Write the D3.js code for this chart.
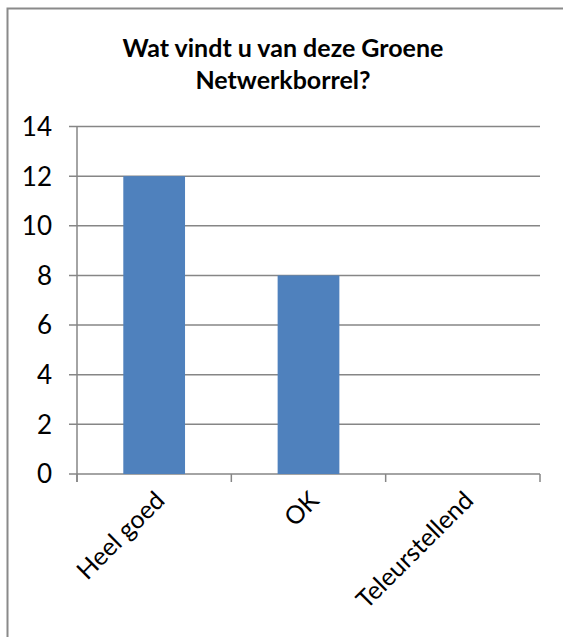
<!DOCTYPE html>
<html>
<head>
<meta charset="utf-8">
<script src="https://cdn.jsdelivr.net/npm/d3@7"></script>
<style>
  body { margin: 0; background: #fff; }
  text { font-family: Lato, "Liberation Sans", sans-serif; fill: #000; }
</style>
</head>
<body>
<div id="chart"></div>
<script>
// data
const categories = ["Heel goed", "OK", "Teleurstellend"];
const values = [12, 8, 0];
const yTicks = [0, 2, 4, 6, 8, 10, 12, 14];
const titleLines = ["Wat vindt u van deze Groene", "Netwerkborrel?"];

const W = 563, H = 637;
const margin = { top: 126.5, right: 23, bottom: 163, left: 77 };
const width = W - margin.left - margin.right,
    height = H - margin.top - margin.bottom;

const svg = d3.select("#chart").append("svg")
    .attr("width", W)
    .attr("height", H);

// outer frame (right and bottom fall outside the picture)
svg.append("rect")
    .attr("x", 7.5).attr("y", 8.5)
    .attr("width", 700).attr("height", 700)
    .attr("fill", "none")
    .attr("stroke", "#8a8a8a")
    .attr("stroke-width", 2);

// title
svg.append("g").selectAll("text")
    .data(titleLines)
    .join("text")
    .attr("x", 283)
    .attr("y", (d, i) => 57 + i * 32)
    .attr("text-anchor", "middle")
    .style("font-weight", "bold")
    .style("font-size", "25px")
    .text(d => d);

const g = svg.append("g")
    .attr("transform", `translate(${margin.left},${margin.top})`);

const x = d3.scaleBand()
    .domain(categories)
    .range([0, width])
    .paddingInner(0.6)
    .paddingOuter(0.3);

const y = d3.scaleLinear()
    .domain([0, 14])
    .range([height, 0]);

// gridlines + y ticks
g.append("g")
    .selectAll("line")
    .data(yTicks)
    .join("line")
    .attr("x1", -8).attr("x2", width)
    .attr("y1", d => y(d)).attr("y2", d => y(d))
    .attr("stroke", "#868686")
    .attr("stroke-width", 1.5);

g.append("g")
    .selectAll("text")
    .data(yTicks)
    .join("text")
    .attr("x", -25)
    .attr("y", d => y(d))
    .attr("dy", "0.36em")
    .attr("text-anchor", "end")
    .style("font-size", "26px")
    .text(d => d);

// bars
g.append("g")
    .selectAll("rect")
    .data(values)
    .join("rect")
    .attr("x", (d, i) => x(categories[i]))
    .attr("y", d => y(d))
    .attr("width", x.bandwidth())
    .attr("height", d => height - y(d))
    .attr("fill", "#4f81bd");

// y axis line
g.append("line")
    .attr("x1", 0).attr("x2", 0)
    .attr("y1", 0).attr("y2", height + 8)
    .attr("stroke", "#868686")
    .attr("stroke-width", 1.5);

// category boundary ticks
const bounds = d3.range(categories.length + 1).map(i => i * x.step());
g.append("g")
    .selectAll("line")
    .data(bounds)
    .join("line")
    .attr("x1", d => d).attr("x2", d => d)
    .attr("y1", height).attr("y2", height + 8)
    .attr("stroke", "#868686")
    .attr("stroke-width", 1.5);

// category labels, rotated
g.append("g")
    .selectAll("text")
    .data(categories)
    .join("text")
    .attr("text-anchor", "end")
    .attr("transform", d => `translate(${x(d) + x.bandwidth() / 2 + 12},${height + 28}) rotate(-45)`)
    .style("font-size", "25px")
    .text(d => d);
</script>
</body>
</html>
